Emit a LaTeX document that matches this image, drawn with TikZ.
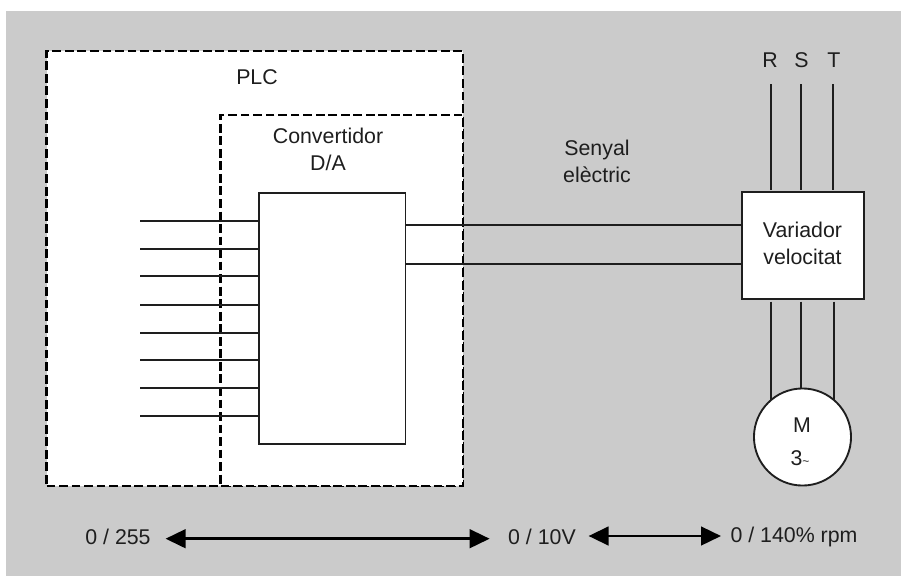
\documentclass[tikz,border=0pt]{standalone}
\usepackage{fontspec}
\setmainfont{Liberation Sans}
\usepackage{xcolor}
\definecolor{plcbg}{HTML}{CBCBCB}
\definecolor{plcink}{HTML}{1E1E1E}
\usetikzlibrary{arrows.meta,calc}
\tikzset{
  plcdash/.style={draw=black,fill=white,dash pattern=on 6.6pt off 2.8pt,line width=1.7pt,inner sep=0pt,outer sep=0pt,anchor=north west},
  plcbox/.style={draw=plcink,fill=white,line width=1.4pt,inner sep=0pt,outer sep=0pt,anchor=north west},
  plcwire/.style={draw=plcink,line width=1.5pt},
  plcflow/.style={{Triangle[length=15pt,width=14pt]}-{Triangle[length=15pt,width=14pt]},line width=1.9pt,black},
  plclabel/.style={font=\fontsize{16}{20.25}\selectfont,text=plcink,align=center,inner sep=0pt},
}
\begin{document}
\begin{tikzpicture}[x=0.75pt,y=-0.75pt]
\fill[white](0,0)rectangle(901,576);
\fill[plcbg](6,11)rectangle(901,576);
\node[plcdash,minimum width=312.4pt,minimum height=326.2pt](plc)at(46.5,51){};
\node[plcdash,minimum width=181.9pt,minimum height=278.2pt](conv)at(220.5,115){};
\node[plcbox,minimum width=109.9pt,minimum height=188.2pt](da)at(259,193){};
\node[plcbox,minimum width=91pt,minimum height=80pt](var)at(742.3,192.3){};
\node[plcbox,circle,minimum size=72.8pt,anchor=center](mot)at(802.5,437){};
\node[plclabel](plclbl)at(257,77){PLC};
\node[plclabel,anchor=north](convlbl)at(328,128){Convertidor\\D/A};
\node[plclabel,anchor=north](senyal)at(597,140){Senyal\\elèctric};
\node[plclabel](varlbl)at(802.5,243){Variador\\velocitat};
\node[plclabel](mlbl)at(802,425){M};
\node[plclabel](trilbl)at(800,458){3{\fontsize{9}{9}\selectfont\textasciitilde}};
\foreach \y [count=\i] in {221,248.5,276,304.8,332.7,360.3,388,416}{
  \coordinate(in\i)at(140,\y);
  \draw[plcwire](in\i)--(in\i-|da.west);
}
\coordinate(outa)at(405.5,225);
\coordinate(outb)at(405.5,264);
\draw[plcwire](outa)--(outa-|var.west);
\draw[plcwire](outb)--(outb-|var.west);
\foreach \n/\x/\lx in {r/771.3/770,s/801/801.5,t/832.5/834}{
  \coordinate(\n)at(\x,84);
  \node[plclabel](\n lbl)at(\lx,60){\MakeUppercase{\n}};
  \draw[plcwire,shorten >=1.5pt](\n)--(\n|-var.north);
}
\draw[plcwire,shorten <=2pt](var.south-|mot.130)--(mot.130);
\draw[plcwire,shorten <=2pt](var.south-|s)--(s|-mot.north);
\draw[plcwire,shorten <=2pt](var.south-|mot.50)--(mot.50);
\node[plclabel](rangea)at(118,537){0 / 255};
\node[plclabel](rangeb)at(542,537){0 / 10V};
\node[plclabel](rangec)at(794,537){0 / 140\% rpm};
\coordinate(arra)at(165.6,538.7);
\coordinate(arrb)at(489.6,538.7);
\coordinate(arrc)at(588.6,536);
\coordinate(arrd)at(721,536);
\draw[plcflow](arra)--(arrb);
\draw[plcflow](arrc)--(arrd);
\end{tikzpicture}
\end{document}
